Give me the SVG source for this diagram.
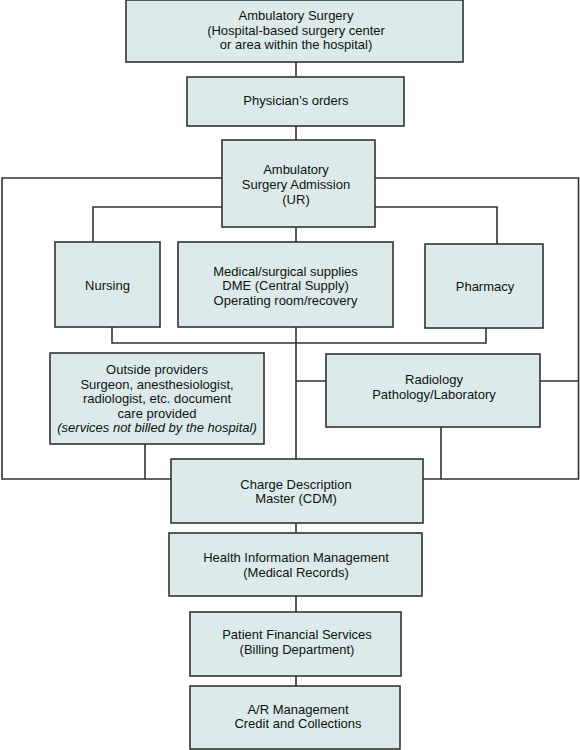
<svg xmlns="http://www.w3.org/2000/svg" width="580" height="750" viewBox="0 0 580 750">
<style>
.box{fill:#dcebea;stroke:#333;stroke-width:1.6}
.ln{fill:none;stroke:#333;stroke-width:1.6}
text{font-family:"Liberation Sans",Arial,sans-serif;font-size:13px;fill:#111;text-anchor:middle}
.it{font-style:italic}
</style>
<rect width="580" height="750" fill="#fff"/>
<g id="connectors">
<path class="ln" d="M296,62V77M296,126V140M296,227V242"/>
<path class="ln" d="M222,178H2V479H171M375,178H578.5V479H423"/>
<path class="ln" d="M222,207H93V242M375,207H497V244"/>
<path class="ln" d="M112,327V343H486V328M296,327V459"/>
<path class="ln" d="M296,381H326M540,381H578.5"/>
<path class="ln" d="M145,444V479M441,427V479"/>
<path class="ln" d="M296,523V533M296,596V612M296,676V686"/>
</g>
<g id="ambulatory-surgery"><rect class="box" x="126" y="0" width="337" height="62"/>
<text x="296" y="19.5">Ambulatory Surgery</text><text x="296" y="34.5">(Hospital-based surgery center</text><text x="296" y="49">or area within the hospital)</text></g>
<g id="physicians-orders"><rect class="box" x="187" y="77" width="217" height="49"/>
<text x="296" y="104.5">Physician’s orders</text></g>
<g id="admission"><rect class="box" x="222" y="140" width="153" height="87"/>
<text x="296" y="173.5">Ambulatory</text><text x="296" y="188.5">Surgery Admission</text><text x="296" y="203.5">(UR)</text></g>
<g id="nursing"><rect class="box" x="55" y="242" width="105" height="85"/>
<text x="107.5" y="289.5">Nursing</text></g>
<g id="supplies"><rect class="box" x="178" y="242" width="215" height="85"/>
<text x="285.5" y="275.5">Medical/surgical supplies</text><text x="285.5" y="289.5">DME (Central Supply)</text><text x="285.5" y="304.5">Operating room/recovery</text></g>
<g id="pharmacy"><rect class="box" x="425" y="244" width="118" height="84"/>
<text x="485" y="291">Pharmacy</text></g>
<g id="outside-providers"><rect class="box" x="50" y="353" width="214" height="91"/>
<text x="157" y="373.5">Outside providers</text><text x="157" y="388.5">Surgeon, anesthesiologist,</text><text x="157" y="402.5">radiologist, etc. document</text><text x="157" y="417.5">care provided</text><text class="it" x="157" y="431.5">(services not billed by the hospital)</text></g>
<g id="radiology"><rect class="box" x="326" y="354" width="214" height="73"/>
<text x="434" y="383.5">Radiology</text><text x="434" y="398.5">Pathology/Laboratory</text></g>
<g id="cdm"><rect class="box" x="171" y="459" width="252" height="64"/>
<text x="296" y="488.5">Charge Description</text><text x="296" y="502.5">Master (CDM)</text></g>
<g id="him"><rect class="box" x="169" y="533" width="253" height="63"/>
<text x="296" y="561.5">Health Information Management</text><text x="296" y="576.5">(Medical Records)</text></g>
<g id="pfs"><rect class="box" x="190" y="612" width="211" height="64"/>
<text x="297" y="638.5">Patient Financial Services</text><text x="297" y="653.5">(Billing Department)</text></g>
<g id="ar"><rect class="box" x="190" y="686" width="210" height="63"/>
<text x="298" y="713.5">A/R Management</text><text x="298" y="727.5">Credit and Collections</text></g>
</svg>
